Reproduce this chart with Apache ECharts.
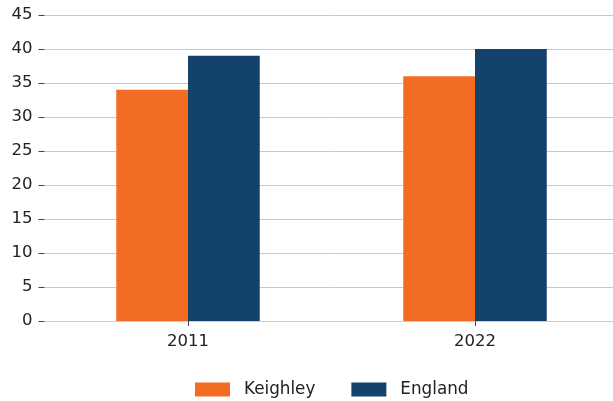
<!DOCTYPE html>
<html><head><meta charset="utf-8">
<script src="https://cdn.jsdelivr.net/npm/echarts@6/dist/echarts.min.js"></script>
<style>html,body{margin:0;padding:0;background:#fff;overflow:hidden;width:613px;height:401px}#c{width:620px;height:401px}</style>
</head><body><div id="c"></div>
<script>
const categories = ['2011', '2022'];
const keighley = [34, 36];
const england = [39, 40];
const yTicks = { min: 0, max: 45, interval: 5 };

const chart = echarts.init(document.getElementById('c'), null, { renderer: 'canvas' });
const font = 'DejaVu Sans';
chart.setOption({
  animation: false,
  textStyle: { fontFamily: font },
  grid: { left: 44.5, width: 574, top: 15, height: 306, containLabel: false },
  legend: {
    top: 376, left: 190, itemWidth: 35, itemHeight: 14, itemGap: 36,
    textStyle: { fontFamily: font, fontSize: 16.8, color: '#222', padding: [0, 0, 0, 9] },
    icon: 'rect',
    data: ['Keighley', 'England']
  },
  xAxis: {
    type: 'category', data: categories,
    axisLine: { show: true, lineStyle: { color: '#ccc', width: 1 } },
    axisTick: { show: true, alignWithLabel: true, length: 5, lineStyle: { color: '#444' } },
    axisLabel: { fontFamily: font, fontSize: 16.5, color: '#222', margin: 12 }
  },
  yAxis: {
    type: 'value', min: yTicks.min, max: yTicks.max, interval: yTicks.interval,
    axisLine: { show: false },
    axisTick: { show: true, length: 6, lineStyle: { color: '#444' } },
    axisLabel: { fontFamily: font, fontSize: 16.5, color: '#222', margin: 12 },
    splitLine: { show: true, lineStyle: { color: '#c8c8c8', width: 1 } }
  },
  series: [
    { name: 'Keighley', type: 'bar', data: keighley, barWidth: '25%', barGap: '0%', itemStyle: { color: '#F36C24' } },
    { name: 'England', type: 'bar', data: england, barWidth: '25%', barGap: '0%', itemStyle: { color: '#13426B' } }
  ]
});
</script></body></html>
